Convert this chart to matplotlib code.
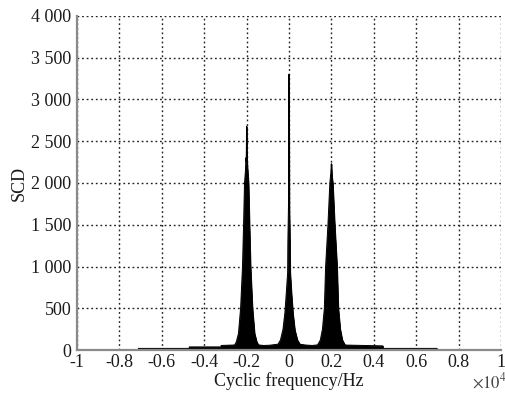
import matplotlib
matplotlib.use('Agg')
import matplotlib.pyplot as plt
from matplotlib.ticker import FuncFormatter

plt.rcParams['font.family'] = ['Liberation Serif', 'DejaVu Serif']
plt.rcParams['mathtext.fontset'] = 'stix'

# Spectral correlation density (frequency in Hz)
freq_hz = [-7100, -7100, -4700, -4700, -3200, -3200, -2650,
           -2560, -2480, -2380, -2280, -2190, -2140, -2095, -2050, -2030, -2015,
           -2005, -2000, -1992, -1980, -1960, -1905, -1860, -1810, -1720, -1620,
           -1520, -1440,
           -1200, -900, -700,
           -520, -400, -280, -190, -120, -60, -50, -20, 0, 20, 50, 60, 120,
           190, 280, 400, 520,
           800, 1100, 1350,
           1480, 1580, 1670, 1730, 1840, 1930, 1975, 1990, 2000, 2015, 2040,
           2070, 2160, 2270, 2330, 2420, 2520, 2650,
           4430, 4430, 6980, 6980]
scd = [0, 20, 20, 38, 38, 55, 60,
       62, 100, 200, 500, 1000, 1500, 2000, 2150, 2300, 2260,
       2450, 2680, 2400, 2320, 2200, 2000, 1500, 1000, 500, 200,
       100, 62,
       55, 58, 65,
       70, 120, 250, 450, 700, 930, 1300, 1740, 3300, 1700, 1250, 930, 680,
       440, 240, 120, 70,
       60, 55, 62,
       120, 250, 500, 1000, 1500, 2000, 2120, 2180, 2230, 2160, 2060,
       2000, 1500, 1000, 500, 250, 120, 60,
       50, 20, 20, 0]

x_ticks = [-10000, -8000, -6000, -4000, -2000, 0, 2000, 4000, 6000, 8000, 10000]
y_ticks = [0, 500, 1000, 1500, 2000, 2500, 3000, 3500, 4000]

fig = plt.figure(figsize=(5.06, 3.96), dpi=100)
ax = fig.add_axes([0.152, 0.116, 0.838, 0.844])

ax.fill_between(freq_hz, scd, 0, color='black', linewidth=0.6, zorder=2)
ax.plot(freq_hz, scd, color='black', linewidth=0.7, zorder=2)

ax.set_xlim(-10000, 10000)
ax.set_ylim(0, 4000)
ax.set_xticks(x_ticks)
ax.set_yticks(y_ticks)
ax.xaxis.set_major_formatter(FuncFormatter(lambda v, p: '%g' % (v / 1e4)))
ax.yaxis.set_major_formatter(FuncFormatter(lambda v, p: '{:,}'.format(int(v)).replace(',', ' ')))
ax.tick_params(length=0, labelsize=13, colors='#1a1a1a')
ax.tick_params(axis='y', pad=4)
ax.tick_params(axis='x', pad=3)

ax.grid(True, color='#222222', linestyle=(0, (1.3, 2.0)), linewidth=1.0)
ax.set_axisbelow(True)
for s in ['top', 'right']:
    ax.spines[s].set_visible(False)
for s in ['left', 'bottom']:
    ax.spines[s].set_color('#8a8a8a')
    ax.spines[s].set_linewidth(1.6)

ax.set_xlabel('Cyclic frequency/Hz', fontsize=13, labelpad=1, color='#1a1a1a')
ax.set_ylabel('SCD', fontsize=13, labelpad=2, color='#1a1a1a')
ax.text(1.015, -0.065, r'$\times 10^{4}$', transform=ax.transAxes,
        ha='right', va='top', fontsize=12, color='#444444')

fig.savefig('out.png', dpi=100)
